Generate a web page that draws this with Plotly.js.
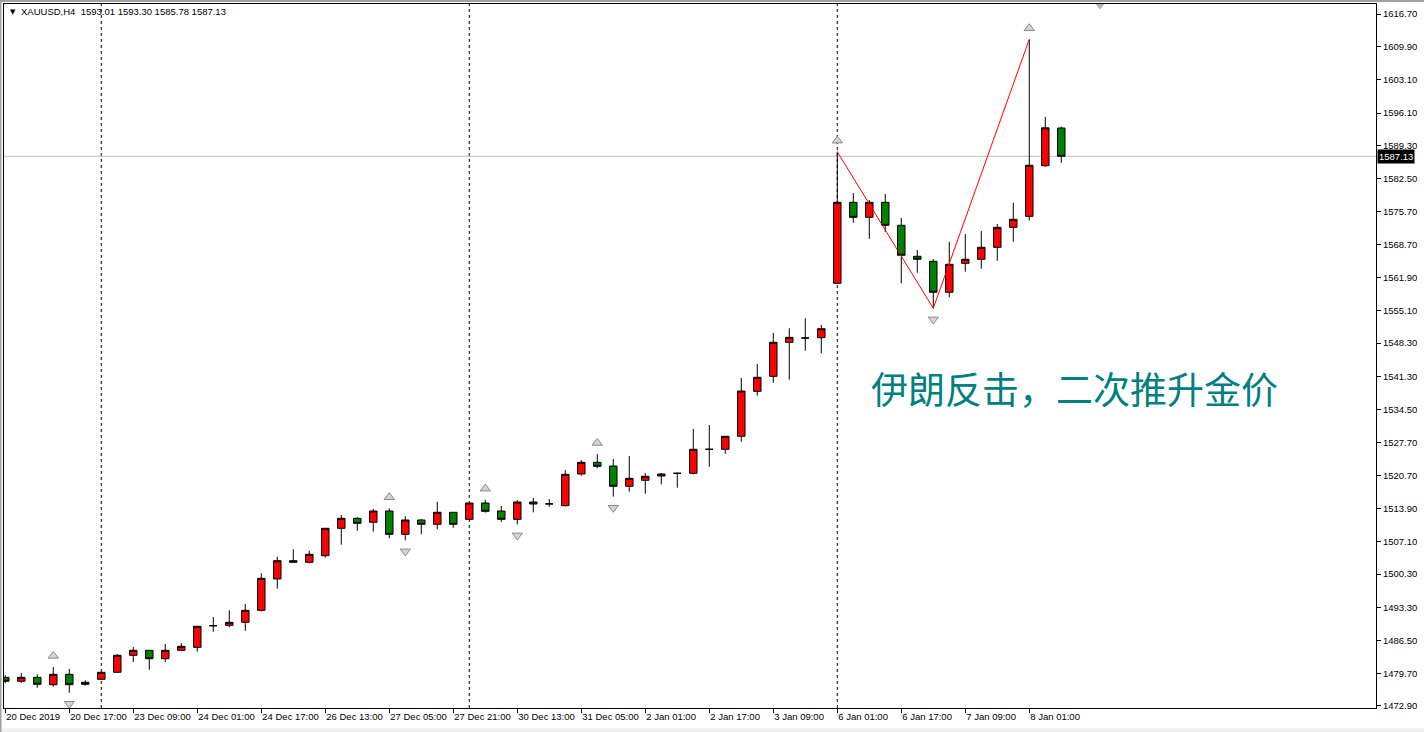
<!DOCTYPE html>
<html>
<head>
<meta charset="utf-8">
<script src="https://cdn.plot.ly/plotly-3.0.1.min.js"></script>
<style>
html,body{margin:0;padding:0;background:#fff;}
#chart{width:1424px;height:732px;}
</style>
</head>
<body>
<div id="chart"></div>
<script>
// ---- data (XAUUSD, H4) ----
const times = [
 '20 Dec 01:00','20 Dec 05:00','20 Dec 09:00','20 Dec 13:00','20 Dec 17:00','20 Dec 21:00',
 '23 Dec 01:00','23 Dec 05:00','23 Dec 09:00','23 Dec 13:00','23 Dec 17:00','23 Dec 21:00',
 '24 Dec 01:00','24 Dec 05:00','24 Dec 09:00','24 Dec 13:00','24 Dec 17:00',
 '26 Dec 01:00','26 Dec 05:00','26 Dec 09:00','26 Dec 13:00','26 Dec 17:00','26 Dec 21:00',
 '27 Dec 01:00','27 Dec 05:00','27 Dec 09:00','27 Dec 13:00','27 Dec 17:00','27 Dec 21:00',
 '30 Dec 01:00','30 Dec 05:00','30 Dec 09:00','30 Dec 13:00','30 Dec 17:00','30 Dec 21:00',
 '31 Dec 01:00','31 Dec 05:00','31 Dec 09:00','31 Dec 13:00','31 Dec 17:00',
 '2 Jan 01:00','2 Jan 05:00','2 Jan 09:00','2 Jan 13:00','2 Jan 17:00','2 Jan 21:00',
 '3 Jan 01:00','3 Jan 05:00','3 Jan 09:00','3 Jan 13:00','3 Jan 17:00','3 Jan 21:00',
 '6 Jan 01:00','6 Jan 05:00','6 Jan 09:00','6 Jan 13:00','6 Jan 17:00','6 Jan 21:00',
 '7 Jan 01:00','7 Jan 05:00','7 Jan 09:00','7 Jan 13:00','7 Jan 17:00','7 Jan 21:00',
 '8 Jan 01:00','8 Jan 05:00','8 Jan 09:00'
];
const opens = [
 1478.85,1478.03,1478.85,1477.32,1479.48,1477.40,
 1478.44,1479.90,1483.43,1484.47,1482.72,1484.47,
 1485.09,1489.58,1489.66,1490.29,1492.78,
 1499.30,1503.09,1502.76,1504.13,1509.82,1511.90,
 1511.07,1513.42,1508.57,1511.55,1510.65,1513.15,
 1511.69,1515.08,1513.42,1511.69,1515.29,1514.90,
 1514.52,1521.11,1523.54,1522.77,1518.55,
 1519.80,1520.69,1521.25,1521.25,1526.24,1526.24,
 1528.94,1538.29,1541.41,1548.48,1549.37,1549.43,
 1560.74,1577.57,1574.45,1577.57,1572.79,1566.35,
 1565.31,1558.87,1564.89,1565.73,1568.22,1572.37,
 1574.66,1585.17,1593.01
];
const highs = [
 1479.30,1479.75,1479.48,1481.00,1480.58,1478.24,
 1479.95,1483.70,1485.15,1484.50,1485.78,1485.98,
 1489.50,1491.39,1492.78,1494.09,1500.47,
 1503.92,1505.46,1505.17,1509.90,1512.59,1512.10,
 1513.83,1513.98,1512.32,1511.76,1515.35,1513.20,
 1515.10,1515.76,1514.46,1515.70,1516.12,1515.91,
 1521.94,1524.02,1525.26,1524.22,1524.85,
 1521.31,1521.31,1521.40,1530.46,1531.29,1529.00,
 1541.06,1543.97,1550.41,1551.39,1553.46,1552.07,
 1588.08,1579.50,1578.05,1579.29,1574.31,1567.66,
 1565.79,1569.32,1570.98,1571.60,1573.06,1577.49,
 1611.44,1595.30,1593.30
];
const lows = [
 1477.60,1477.74,1476.70,1476.90,1475.66,1477.12,
 1478.40,1479.85,1482.04,1480.44,1482.04,1484.40,
 1484.18,1488.33,1489.25,1488.54,1492.57,
 1497.27,1502.70,1502.55,1503.71,1506.41,1509.32,
 1509.12,1507.74,1507.33,1508.57,1509.61,1509.95,
 1511.60,1513.07,1511.13,1510.65,1513.15,1514.31,
 1514.40,1520.75,1522.29,1516.39,1517.43,
 1517.01,1518.97,1518.26,1521.04,1522.62,1525.32,
 1527.82,1537.38,1540.08,1540.70,1546.73,1546.19,
 1560.70,1573.33,1570.00,1571.40,1560.74,1562.94,
 1555.54,1557.83,1563.15,1563.77,1565.43,1569.38,
 1573.83,1584.97,1585.78
];
const closes = [
 1478.03,1478.85,1477.40,1479.48,1477.32,1477.82,
 1479.90,1483.43,1484.47,1482.72,1484.47,1485.30,
 1489.46,1489.58,1490.29,1492.78,1499.43,
 1503.09,1502.76,1504.42,1509.82,1511.90,1510.86,
 1513.42,1508.57,1511.55,1510.65,1513.15,1510.65,
 1515.08,1513.35,1511.69,1515.29,1514.87,1514.90,
 1521.04,1523.54,1522.70,1518.55,1520.21,
 1520.63,1521.11,1521.25,1526.24,1526.24,1528.94,
 1538.35,1541.20,1548.48,1549.51,1549.37,1551.30,
 1577.57,1574.45,1577.57,1572.79,1566.56,1565.73,
 1558.87,1564.69,1565.73,1568.22,1572.37,1574.04,
 1585.26,1593.05,1587.13
];
// fractal bars (up = at highs, down = at lows)
const fractalUp = ['20 Dec 13:00','27 Dec 05:00','30 Dec 05:00','31 Dec 09:00','6 Jan 01:00','8 Jan 01:00'];
const fractalDown = ['20 Dec 17:00','27 Dec 09:00','30 Dec 13:00','31 Dec 13:00','7 Jan 01:00'];
// zigzag pivots
const zigzagBars = ['6 Jan 01:00','7 Jan 01:00','8 Jan 01:00'];
const zigzagKind = ['high','low','high'];
// weekly period separators
const separators = ['23 Dec 01:00','30 Dec 01:00','6 Jan 01:00'];
// axis ticks
const xTickCats = ['20 Dec 01:00','20 Dec 17:00','23 Dec 09:00','24 Dec 01:00','24 Dec 17:00','26 Dec 13:00',
 '27 Dec 05:00','27 Dec 21:00','30 Dec 13:00','31 Dec 05:00','2 Jan 01:00','2 Jan 17:00','3 Jan 09:00',
 '6 Jan 01:00','6 Jan 17:00','7 Jan 09:00','8 Jan 01:00'];
const xTickLabels = ['20 Dec 2019','20 Dec 17:00','23 Dec 09:00','24 Dec 01:00','24 Dec 17:00','26 Dec 13:00',
 '27 Dec 05:00','27 Dec 21:00','30 Dec 13:00','31 Dec 05:00','2 Jan 01:00','2 Jan 17:00','3 Jan 09:00',
 '6 Jan 01:00','6 Jan 17:00','7 Jan 09:00','8 Jan 01:00'];
const yTicks = [1616.70,1609.90,1603.10,1596.10,1589.30,1582.50,1575.70,1568.70,1561.90,1555.10,1548.30,
 1541.30,1534.50,1527.70,1520.70,1513.90,1507.10,1500.30,1493.30,1486.50,1479.70,1472.90];
const yTickLabels = yTicks.map(v => v.toFixed(2));
const symbolName = 'XAUUSD,H4';
const noteText = '伊朗反击，二次推升金价';
const noteBar = '6 Jan 09:00';
const notePrice = 1539.0;

// ---- styling ----
const fractalOffset = 2.3;
const idx = c => times.indexOf(c);
const last = times.length - 1;

const candles = {
  type: 'candlestick',
  x: times, open: opens, high: highs, low: lows, close: closes,
  increasing: {fillcolor: '#ff0000', line: {color: '#000000', width: 1}},
  decreasing: {fillcolor: '#008000', line: {color: '#000000', width: 1}},
  whiskerwidth: 0,
  hoverinfo: 'skip',
  showlegend: false
};
const upMarks = {
  type: 'scatter', mode: 'markers',
  x: fractalUp, y: fractalUp.map(c => highs[idx(c)] + fractalOffset),
  marker: {symbol: 'triangle-up', size: 9, color: '#d4d4d4', line: {color: '#8a8a8a', width: 1}},
  hoverinfo: 'skip', showlegend: false
};
const downMarks = {
  type: 'scatter', mode: 'markers',
  x: fractalDown, y: fractalDown.map(c => lows[idx(c)] - fractalOffset),
  marker: {symbol: 'triangle-down', size: 9, color: '#d4d4d4', line: {color: '#8a8a8a', width: 1}},
  hoverinfo: 'skip', showlegend: false
};
const zigzag = {
  type: 'scatter', mode: 'lines',
  x: zigzagBars,
  y: zigzagBars.map((c, k) => zigzagKind[k] === 'high' ? highs[idx(c)] : lows[idx(c)]),
  line: {color: '#ff0000', width: 1},
  hoverinfo: 'skip', showlegend: false
};

// pixel helpers for chrome (plot area 4..1376 x 4..708)
const px = p => (p - 4) / 1372;
const py = p => (708 - p) / 704;

const shapes = separators.map(c => ({
  type: 'line', xref: 'x', yref: 'paper', x0: idx(c), x1: idx(c), y0: 0, y1: 1,
  line: {color: '#000000', width: 1, dash: '3px,3px'}, layer: 'below'
}));
shapes.push({type: 'line', xref: 'paper', yref: 'y', x0: 0, x1: 1, y0: closes[last], y1: closes[last],
  line: {color: '#c0c0c0', width: 1}, layer: 'below'});
// window frame decorations
shapes.push({type: 'rect', xref: 'paper', yref: 'paper', x0: px(0), x1: px(1424), y0: py(2), y1: py(0),
  fillcolor: '#a0a0a0', line: {width: 0}});
shapes.push({type: 'rect', xref: 'paper', yref: 'paper', x0: px(0), x1: px(1424), y0: py(732), y1: py(728.5),
  fillcolor: '#f0f0f0', line: {width: 0}});
shapes.push({type: 'rect', xref: 'paper', yref: 'paper', x0: px(0), x1: px(1.5), y0: py(732), y1: py(0),
  fillcolor: '#a0a0a0', line: {width: 0}});
// chart shift marker
shapes.push({type: 'path', xref: 'paper', yref: 'paper',
  path: `M${px(1095.5)},${py(4)} L${px(1104.5)},${py(4)} L${px(1100)},${py(9.5)} Z`,
  fillcolor: '#b4b4b4', line: {width: 0}});

const fmt = v => v.toFixed(2);
const annotations = [
  {xref: 'paper', yref: 'paper', x: px(8), y: py(12), xanchor: 'left', yanchor: 'middle', showarrow: false,
   text: '▼', font: {family: 'DejaVu Sans', size: 7, color: '#000'}},
  {xref: 'paper', yref: 'paper', x: px(19), y: py(12), xanchor: 'left', yanchor: 'middle', showarrow: false,
   text: symbolName + '\u00A0\u00A0' + [opens[last], highs[last], lows[last], closes[last]].map(fmt).join(' '),
   font: {family: 'Liberation Sans', size: 9.5, color: '#000'}},
  {xref: 'x', yref: 'y', x: idx(noteBar), y: notePrice, xanchor: 'left', yanchor: 'middle', showarrow: false,
   text: noteText, font: {family: 'Noto Sans CJK SC', size: 37, color: '#008080'}},
  {xref: 'paper', yref: 'y', x: 1, y: closes[last], xanchor: 'left', yanchor: 'middle', xshift: 1, showarrow: false,
   text: fmt(closes[last]), bgcolor: '#000000', borderpad: 1,
   font: {family: 'Liberation Sans', size: 9.5, color: '#ffffff'}}
];

const layout = {
  width: 1424, height: 732,
  margin: {l: 4, r: 48, t: 4, b: 24, pad: 0},
  paper_bgcolor: '#ffffff', plot_bgcolor: '#ffffff',
  showlegend: false,
  boxgap: 0.33,
  xaxis: {
    type: 'category', range: [-0.08, 85.67], rangeslider: {visible: false},
    tickmode: 'array', tickvals: xTickCats, ticktext: xTickLabels,
    ticks: 'outside', ticklen: 4, tickcolor: '#000', tickwidth: 1,
    tickangle: 0, automargin: false,
    ticklabelposition: 'outside right',
    tickfont: {family: 'Liberation Sans', size: 9.5, color: '#000'},
    showgrid: false, zeroline: false, showline: true, linecolor: '#000', linewidth: 1, mirror: true,
    fixedrange: true
  },
  yaxis: {
    side: 'right', range: [1472.48, 1618.78], automargin: false,
    tickmode: 'array', tickvals: yTicks, ticktext: yTickLabels,
    ticks: 'outside', ticklen: 4, tickcolor: '#000', tickwidth: 1,
    tickfont: {family: 'Liberation Sans', size: 9.5, color: '#000'},
    showgrid: false, zeroline: false, showline: true, linecolor: '#000', linewidth: 1, mirror: true,
    fixedrange: true
  },
  shapes: shapes,
  annotations: annotations
};

Plotly.newPlot('chart', [candles, zigzag, upMarks, downMarks], layout, {displayModeBar: false, staticPlot: true});
</script>
</body>
</html>
